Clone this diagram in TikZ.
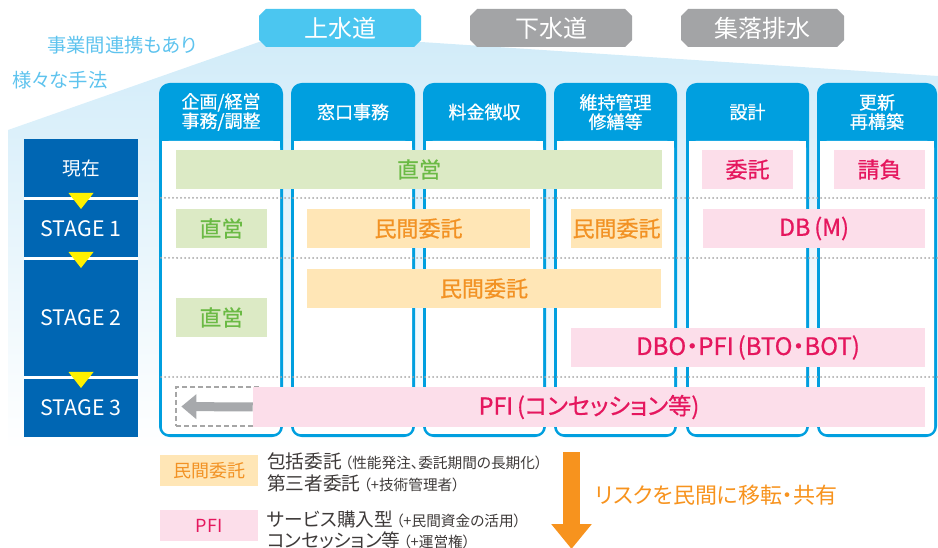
\documentclass[tikz,border=0pt]{standalone}
\usepackage{fontspec}
\setmainfont{Noto Sans CJK JP}[RawFeature=+palt]
\newfontfamily\medfont{Noto Sans CJK JP}[RawFeature=+palt, FakeBold=0.7]
\usetikzlibrary{arrows.meta}
\definecolor{tabblue}{HTML}{4BC6F0}
\definecolor{tabgray}{HTML}{A3A4A6}
\definecolor{hdrblue}{HTML}{009FDF}
\definecolor{stageblue}{HTML}{0066B3}
\definecolor{bgblue}{HTML}{D2ECF9}
\definecolor{lbtext}{HTML}{5EC3EE}
\definecolor{greenfill}{HTML}{DCEAC5}
\definecolor{greentext}{HTML}{6BBA45}
\definecolor{orfill}{HTML}{FFE6B6}
\definecolor{ortext}{HTML}{F29224}
\definecolor{pkfill}{HTML}{FCDEEA}
\definecolor{pktext}{HTML}{E5175E}
\definecolor{dotgray}{HTML}{A6A6A6}
\definecolor{arrowgray}{HTML}{A7A9AC}
\definecolor{legtext}{HTML}{3E3A39}
\definecolor{arrowor}{HTML}{F7931E}
\definecolor{yel}{HTML}{FFF100}
\newcommand\myfs[2]{\fontsize{#1}{#2}\selectfont}
\newcommand\tabpoly[3]{\fill[#3] (#1+7,9) -- (#2-7,9) -- (#2,16) -- (#2,40) -- (#2-7,47) -- (#1+7,47) -- (#1,40) -- (#1,16) -- cycle;}
\newcommand\colbox[4]{%
  \fill[hdrblue, rounded corners=8] (#1,83) rectangle (#2,437);
  \fill[white, rounded corners=5] (#1+3,141) rectangle (#2-3,434);
  \fill[white] (#1+3,141) rectangle (#2-3,150);
  \node[hdr] (#3) at ({(#1+#2)/2},112) {#4};}
\tikzset{
  wpx/.style={minimum width=#1*0.75pt},
  hpx/.style={minimum height=#1*0.75pt},
  tabtxt/.style={text=white, font=\myfs{18}{20}, inner sep=0},
  hdr/.style={text=white, align=center, font=\medfont\myfs{13.5}{14.5}, inner sep=0},
  stage/.style={fill=stageblue, text=white, wpx=114, inner sep=0, font=\myfs{16}{18}},
  bar/.style={inner sep=0, hpx=39, font=\medfont\myfs{16.5}{18}},
  gbar/.style={bar, fill=greenfill, text=greentext},
  obar/.style={bar, fill=orfill, text=ortext},
  pbar/.style={bar, fill=pkfill, text=pktext},
  dotline/.style={dotgray, line width=1.5pt, dash pattern=on 0pt off 3pt, line cap=round},
  sidetxt/.style={text=lbtext, anchor=west, inner sep=0, font=\myfs{14.5}{16}},
  legtxt/.style={text=legtext, anchor=west, inner sep=0},
}
\begin{document}
\begin{tikzpicture}[x=0.75pt,y=-0.75pt]
\useasboundingbox (0,0) rectangle (938,548);
% background
\shade[top color=bgblue, bottom color=white] (259,42) -- (421,42) -- (938,76) -- (938,450) -- (8,450) -- (8,130) -- cycle;
% side text
\node[sidetxt] (side1) at (47,45) {事業間連携もあり};
\node[sidetxt] (side2) at (12,80) {様々な手法};
% tabs
\tabpoly{259}{421}{tabblue}
\tabpoly{470}{632}{tabgray}
\tabpoly{681}{844}{tabgray}
\node[tabtxt] (tab1) at (340,28) {上水道};
\node[tabtxt] (tab2) at (551,28) {下水道};
\node[tabtxt] (tab3) at (762.5,28) {集落排水};
% columns
\colbox{159}{283}{c1}{企画/経営\\事務/調整}
\colbox{291}{415}{c2}{窓口事務}
\colbox{423}{546}{c3}{料金徴収}
\colbox{554}{677}{c4}{維持管理\\修繕等}
\colbox{686}{809}{c5}{設計}
\colbox{817}{937}{c6}{更新\\再構築}
% dotted separators
\draw[dotline] (161,198) -- (938,198);
\draw[dotline] (161,258) -- (938,258);
\draw[dotline] (161,377) -- (938,377);
% bars: present
\node[gbar, wpx=486] (g0) at (419,169.5) {直営};
\node[pbar, wpx=91] (p0a) at (747.5,169.5) {委託};
\node[pbar, wpx=91] (p0b) at (879.5,169.5) {請負};
% stage 1
\node[gbar, wpx=91] (g1) at (221.5,228.5) {直営};
\node[obar, wpx=223] (o1a) at (418.5,228.5) {民間委託};
\node[obar, wpx=91] (o1b) at (616.5,228.5) {民間委託};
\node[pbar, wpx=222, font=\medfont\myfs{17.5}{19}] (p1) at (814,228.5) {DB\,(M)};
% stage 2
\node[obar, wpx=354] (o2) at (484,288.5) {民間委託};
\node[gbar, wpx=91] (g2) at (221.5,317.5) {直営};
\node[pbar, wpx=354, font=\medfont\myfs{18}{19}] (p2) at (748,347.5) {DBO・PFI\,(BTO・BOT)};
% stage 3
\node[draw=dotgray, line width=1pt, dash pattern=on 3.5pt off 2.5pt, wpx=86, hpx=39, inner sep=0] (d3) at (219,406.5) {};
\node[pbar, wpx=672, hpx=40, font=\medfont\myfs{17.5}{19}] (p3) at (589,407) {PFI\,(コンセッション等)};
\draw[arrowgray, line width=6.75pt, -{Triangle[length=11.25pt, width=18pt]}, shorten >=4.5pt] (p3.west) -- (d3.west);
% stage column
\fill[white] (24,139) rectangle (138,437);
\node[stage, hpx=58, font=\myfs{14}{16}] (s0) at (81,168) {現在};
\node[stage, hpx=57] (s1) at (81,228.5) {STAGE 1};
\node[stage, hpx=116] (s2) at (81,318) {STAGE 2};
\node[stage, hpx=58] (s3) at (81,408) {STAGE 3};
\fill[yel] (68.5,193) -- (93.5,193) -- (81,209) -- cycle;
\fill[yel] (68.5,252) -- (93.5,252) -- (81,268) -- cycle;
\fill[yel] (68.5,372) -- (93.5,372) -- (81,388) -- cycle;
% legend
\node[fill=orfill, text=ortext, wpx=98, hpx=31, inner sep=0, font=\myfs{13.5}{14}] (lo) at (209,470.5) {民間委託};
\node[fill=pkfill, text=pktext, wpx=98, hpx=31, inner sep=0, font=\myfs{13.5}{14}] (lp) at (209,525.5) {PFI};
\node[legtxt] (l1) at (267,461) {{\myfs{14}{16}包括委託} {\myfs{11}{12}（性能発注、委託期間の長期化）}};
\node[legtxt] (l2) at (267,483) {{\myfs{14}{16}第三者委託} {\myfs{11}{12}（+技術管理者）}};
\node[legtxt] (l3) at (267,519) {{\myfs{14}{16}サービス購入型} {\myfs{11}{12}（+民間資金の活用）}};
\node[legtxt] (l4) at (267,540) {{\myfs{14}{16}コンセッション等} {\myfs{11}{12}（+運営権）}};
% risk arrow
\coordinate (rtop) at (571.5,452);
\coordinate (rbot) at (571.5,549);
\draw[arrowor, line width=12.75pt, -{Triangle[length=18.75pt, width=29.25pt]}] (rtop) -- (rbot);
\node[text=arrowor, anchor=west, inner sep=0, font=\myfs{16.5}{18}] (risk) at (595,495) {リスクを民間に移転・共有};
\end{tikzpicture}
\end{document}
